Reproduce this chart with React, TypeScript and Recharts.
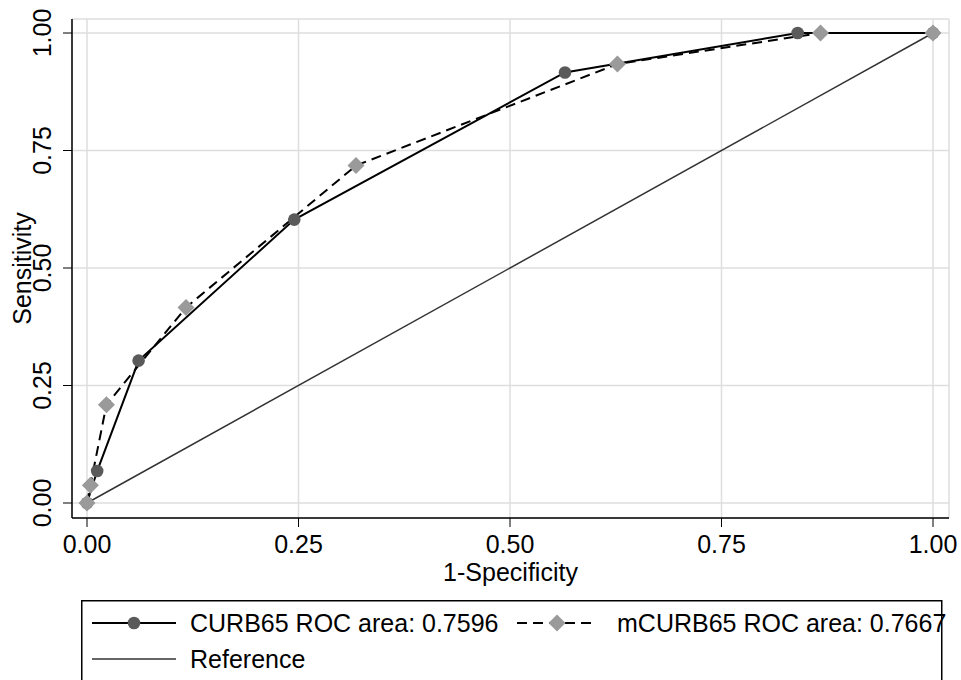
import { ComposedChart, Line, XAxis, YAxis, CartesianGrid, Label } from 'recharts';

// ROC points: [1-specificity, sensitivity]
const curbX = [0, 0.012, 0.061, 0.245, 0.565, 0.84, 1];
const curbY = [0, 0.068, 0.303, 0.603, 0.916, 1, 1];
const mcurbX = [0, 0.004, 0.023, 0.117, 0.318, 0.627, 0.867, 1];
const mcurbY = [0, 0.038, 0.209, 0.416, 0.718, 0.934, 1, 1];
const refX = [0, 1];
const refY = [0, 1];
const ticks = [0, 0.25, 0.5, 0.75, 1];
const tickLabels = ['0.00', '0.25', '0.50', '0.75', '1.00'];
const legendLabels = ['CURB65 ROC area: 0.7596', 'mCURB65 ROC area: 0.7667', 'Reference'];

const toPoints = (xs: number[], ys: number[]) => xs.map((x, i) => ({ x, y: ys[i] }));
const curb = toPoints(curbX, curbY);
const mcurb = toPoints(mcurbX, mcurbY);
const ref = toPoints(refX, refY);

const FONT = '"Liberation Sans", Arial, Helvetica, sans-serif';
const FS = 25;
const fmt = (v: number) => tickLabels[ticks.indexOf(v)] ?? v.toFixed(2);

const Circle = (props: any) => {
    const { cx, cy, index } = props;
    return <circle key={'c' + index} cx={cx} cy={cy} r={6.3} fill="#5a5a5a" stroke="none" />;
};

const Diamond = (props: any) => {
    const { cx, cy, index } = props;
    const s = 8.5;
    return <path key={'d' + index} d={`M${cx},${cy - s}L${cx + s},${cy}L${cx},${cy + s}L${cx - s},${cy}Z`} fill="#9a9a9a" stroke="none" />;
};

const YTick = (props: any) => {
    const { x, y, payload } = props;
    const bx = x - 10;
    return <text x={bx} y={y} transform={`rotate(-90, ${bx}, ${y})`} textAnchor="middle" fontSize={FS} fontFamily={FONT} fill="#000">
        {fmt(payload.value)}
    </text>;
};

const ChartLegend = () => <svg width={880} height={80} style={{ position: 'absolute', left: 81, top: 600 }}>
    <rect x={0.75} y={0.75} width={860} height={200} fill="#fff" stroke="#000" strokeWidth={1.5} />
    <line x1={11} y1={23} x2={95} y2={23} stroke="#000" strokeWidth={2} />
    <circle cx={53} cy={23} r={6.3} fill="#5a5a5a" />
    <text x={109} y={32} fontSize={FS} fontFamily={FONT}>{legendLabels[0]}</text>
    <line x1={436} y1={23} x2={515} y2={23} stroke="#000" strokeWidth={2} strokeDasharray="10 6" />
    <path d="M476,14.5L484.5,23L476,31.5L467.5,23Z" fill="#9a9a9a" />
    <text x={536} y={32} fontSize={FS} fontFamily={FONT}>{legendLabels[1]}</text>
    <line x1={11} y1={59} x2={95} y2={59} stroke="#333" strokeWidth={1.5} />
    <text x={109} y={68} fontSize={FS} fontFamily={FONT}>{legendLabels[2]}</text>
</svg>;

export default function App() {
    return <div style={{ position: 'absolute', left: 0, top: 0, width: 961, height: 680, background: '#fff' }}>
        <ComposedChart
            width={961}
            height={680}
            margin={{ top: 19, right: 12, left: 0, bottom: 92 }}
        >
            <CartesianGrid xAxisId="main" yAxisId="main" stroke="#dedede" strokeWidth={1.5} />
            <XAxis
                xAxisId="main"
                dataKey="x"
                type="number"
                domain={[0, 1]}
                ticks={ticks}
                tickFormatter={fmt}
                padding={{ left: 15, right: 16 }}
                height={70}
                tickSize={9}
                tickMargin={8}
                stroke="#000"
                tick={{ fontSize: FS, fontFamily: FONT, fill: '#000' }}
                axisLine={{ stroke: '#000', strokeWidth: 1.5 }}
            >
                <Label content={(p: any) => <text x={p.viewBox.x + p.viewBox.width / 2} y={581} textAnchor="middle" fontSize={FS} fontFamily={FONT} fill="#000">1-Specificity</text>} />
            </XAxis>
            <XAxis xAxisId="top" orientation="top" type="number" domain={[0, 1]} height={0} tick={false} tickLine={false} axisLine={{ stroke: '#000', strokeWidth: 1.5 }} />
            <YAxis
                yAxisId="main"
                type="number"
                domain={[0, 1]}
                ticks={ticks}
                padding={{ top: 14, bottom: 15 }}
                width={72}
                tickSize={9}
                stroke="#000"
                tick={<YTick />}
                axisLine={{ stroke: '#000', strokeWidth: 1.5 }}
            >
                <Label content={(p: any) => {
                    const cy = p.viewBox.y + p.viewBox.height / 2;
                    return <text x={31} y={cy} transform={`rotate(-90, 31, ${cy})`} textAnchor="middle" fontSize={FS} fontFamily={FONT} fill="#000">Sensitivity</text>;
                }} />
            </YAxis>
            <YAxis yAxisId="right" orientation="right" type="number" domain={[0, 1]} width={0} tick={false} tickLine={false} axisLine={{ stroke: '#000', strokeWidth: 1.5 }} />
            <Line xAxisId="main" yAxisId="main" data={curb} dataKey="y" type="linear" stroke="#000" strokeWidth={2} dot={Circle} activeDot={false} isAnimationActive={false} />
            <Line xAxisId="main" yAxisId="main" data={mcurb} dataKey="y" type="linear" stroke="#000" strokeWidth={2} strokeDasharray="10 6" dot={Diamond} activeDot={false} isAnimationActive={false} />
            <Line xAxisId="main" yAxisId="main" data={ref} dataKey="y" type="linear" stroke="#333" strokeWidth={1.5} dot={false} activeDot={false} isAnimationActive={false} />
        </ComposedChart>
        <ChartLegend />
    </div>;
}
